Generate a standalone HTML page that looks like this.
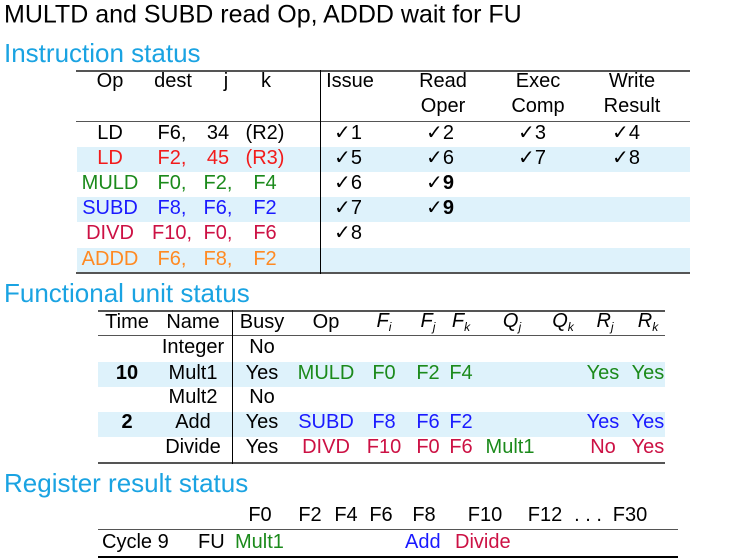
<!DOCTYPE html>
<html><head><meta charset="utf-8"><style>
body{margin:0;width:734px;height:558px;background:#fff;position:relative;overflow:hidden;font-family:"Liberation Sans",sans-serif;font-size:20px;color:#000}
.t{position:absolute;transform:translate(-50%,-50%);white-space:nowrap;line-height:1}
.l{position:absolute;transform:translate(0,-50%);white-space:nowrap;line-height:1}
.h{position:absolute;color:#1aa3e2;font-size:26px;line-height:1;transform:translate(0,-50%)}
.hr{position:absolute;height:1px;background:#555}
.vr{position:absolute;width:1.3px;background:#000}
.sh{position:absolute;background:#def2fb}
.r{color:#f21b1b}.g{color:#1b8a1b}.b{color:#1a1aff}.c{color:#cc1144}.o{color:#ff8a22}
i{font-style:italic}
sub{font-size:12px;vertical-align:-4px}
</style></head><body>
<div class="l" style="left:4px;top:15px;font-size:25px">MULTD and SUBD read Op, ADDD wait for FU</div>
<div class="h" style="left:4px;top:53px">Instruction status</div>
<div class="h" style="left:4px;top:293px">Functional unit status</div>
<div class="h" style="left:4px;top:483px">Register result status</div>

<div>
<div class="sh" style="left:77px;top:147px;width:613px;height:25px"></div>
<div class="sh" style="left:77px;top:197px;width:613px;height:25px"></div>
<div class="sh" style="left:77px;top:248px;width:613px;height:25px"></div>
<div class="hr" style="left:76px;top:70px;width:614px;height:2px"></div>
<div class="hr" style="left:76px;top:121px;width:614px"></div>
<div class="hr" style="left:76px;top:272px;width:614px;height:2px"></div>
<div class="vr" style="left:320px;top:70px;height:204px"></div>
<span class="t" style="left:110px;top:81px">Op</span>
<span class="t" style="left:173px;top:81px">dest</span>
<span class="t" style="left:226px;top:81px">j</span>
<span class="t" style="left:266px;top:81px">k</span>
<span class="t" style="left:350px;top:81px">Issue</span>
<span class="t" style="left:443px;top:81px">Read</span><span class="t" style="left:443px;top:106px">Oper</span>
<span class="t" style="left:538px;top:81px">Exec</span><span class="t" style="left:538px;top:106px">Comp</span>
<span class="t" style="left:632px;top:81px">Write</span><span class="t" style="left:632px;top:106px">Result</span>

<span class="t" style="left:110px;top:133px">LD</span><span class="t" style="left:172px;top:133px">F6,</span><span class="t" style="left:218px;top:133px">34</span><span class="t" style="left:265px;top:133px">(R2)</span>
<span class="t r" style="left:110px;top:158px">LD</span><span class="t r" style="left:172px;top:158px">F2,</span><span class="t r" style="left:218px;top:158px">45</span><span class="t r" style="left:265px;top:158px">(R3)</span>
<span class="t g" style="left:110px;top:183px">MULD</span><span class="t g" style="left:172px;top:183px">F0,</span><span class="t g" style="left:218px;top:183px">F2,</span><span class="t g" style="left:265px;top:183px">F4</span>
<span class="t b" style="left:110px;top:208px">SUBD</span><span class="t b" style="left:172px;top:208px">F8,</span><span class="t b" style="left:218px;top:208px">F6,</span><span class="t b" style="left:265px;top:208px">F2</span>
<span class="t c" style="left:110px;top:233px">DIVD</span><span class="t c" style="left:172px;top:233px">F10,</span><span class="t c" style="left:218px;top:233px">F0,</span><span class="t c" style="left:265px;top:233px">F6</span>
<span class="t o" style="left:110px;top:259px">ADDD</span><span class="t o" style="left:172px;top:259px">F6,</span><span class="t o" style="left:218px;top:259px">F8,</span><span class="t o" style="left:265px;top:259px">F2</span>

<span class="t" style="left:348px;top:133px">✓1</span><span class="t" style="left:440px;top:133px">✓2</span><span class="t" style="left:532px;top:133px">✓3</span><span class="t" style="left:626px;top:133px">✓4</span>
<span class="t" style="left:348px;top:158px">✓5</span><span class="t" style="left:440px;top:158px">✓6</span><span class="t" style="left:532px;top:158px">✓7</span><span class="t" style="left:626px;top:158px">✓8</span>
<span class="t" style="left:348px;top:183px">✓6</span><span class="t" style="left:440px;top:183px">✓<b>9</b></span>
<span class="t" style="left:348px;top:208px">✓7</span><span class="t" style="left:440px;top:208px">✓<b>9</b></span>
<span class="t" style="left:348px;top:233px">✓8</span>
</div>

<div>
<div class="sh" style="left:98px;top:362px;width:567px;height:25px"></div>
<div class="sh" style="left:98px;top:412px;width:567px;height:25px"></div>
<div class="hr" style="left:98px;top:310px;width:567px;height:2px"></div>
<div class="hr" style="left:98px;top:335px;width:567px"></div>
<div class="hr" style="left:98px;top:462px;width:567px;height:2px"></div>
<div class="vr" style="left:232px;top:310px;height:154px"></div>
<span class="t" style="left:127px;top:322px">Time</span>
<span class="t" style="left:193px;top:322px">Name</span>
<span class="t" style="left:262px;top:322px">Busy</span>
<span class="t" style="left:326px;top:322px">Op</span>
<span class="t" style="left:384px;top:322px"><i>F<sub>i</sub></i></span>
<span class="t" style="left:428px;top:322px"><i>F<sub>j</sub></i></span>
<span class="t" style="left:461px;top:322px"><i>F<sub>k</sub></i></span>
<span class="t" style="left:512px;top:322px"><i>Q<sub>j</sub></i></span>
<span class="t" style="left:563px;top:322px"><i>Q<sub>k</sub></i></span>
<span class="t" style="left:605px;top:322px"><i>R<sub>j</sub></i></span>
<span class="t" style="left:648px;top:322px"><i>R<sub>k</sub></i></span>

<span class="t" style="left:193px;top:347px">Integer</span><span class="t" style="left:262px;top:347px">No</span>
<span class="t" style="left:127px;top:373px"><b>10</b></span><span class="t" style="left:193px;top:373px">Mult1</span><span class="t" style="left:262px;top:373px">Yes</span>
<span class="t g" style="left:326px;top:373px">MULD</span><span class="t g" style="left:384px;top:373px">F0</span><span class="t g" style="left:428px;top:373px">F2</span><span class="t g" style="left:461px;top:373px">F4</span><span class="t g" style="left:603px;top:373px">Yes</span><span class="t g" style="left:648px;top:373px">Yes</span>
<span class="t" style="left:193px;top:397px">Mult2</span><span class="t" style="left:262px;top:397px">No</span>
<span class="t" style="left:127px;top:422px"><b>2</b></span><span class="t" style="left:193px;top:422px">Add</span><span class="t" style="left:262px;top:422px">Yes</span>
<span class="t b" style="left:326px;top:422px">SUBD</span><span class="t b" style="left:384px;top:422px">F8</span><span class="t b" style="left:428px;top:422px">F6</span><span class="t b" style="left:461px;top:422px">F2</span><span class="t b" style="left:603px;top:422px">Yes</span><span class="t b" style="left:648px;top:422px">Yes</span>
<span class="t" style="left:193px;top:447px">Divide</span><span class="t" style="left:262px;top:447px">Yes</span>
<span class="t c" style="left:326px;top:447px">DIVD</span><span class="t c" style="left:384px;top:447px">F10</span><span class="t c" style="left:428px;top:447px">F0</span><span class="t c" style="left:461px;top:447px">F6</span><span class="t g" style="left:510px;top:447px">Mult1</span><span class="t c" style="left:603px;top:447px">No</span><span class="t c" style="left:648px;top:447px">Yes</span>
</div>

<div>
<div class="hr" style="left:98px;top:529px;width:580px"></div>
<div class="hr" style="left:98px;top:556px;width:580px;height:2px;background:#000"></div>
<span class="t" style="left:260px;top:515px">F0</span>
<span class="t" style="left:310px;top:515px">F2</span>
<span class="t" style="left:346px;top:515px">F4</span>
<span class="t" style="left:381px;top:515px">F6</span>
<span class="t" style="left:424px;top:515px">F8</span>
<span class="t" style="left:485px;top:515px">F10</span>
<span class="t" style="left:545px;top:515px">F12</span>
<span class="t" style="left:588px;top:515px">. . .</span>
<span class="t" style="left:630px;top:515px">F30</span>
<span class="l" style="left:102px;top:542px">Cycle 9</span>
<span class="l" style="left:198px;top:542px">FU</span>
<span class="l g" style="left:235px;top:542px">Mult1</span>
<span class="l b" style="left:405px;top:542px">Add</span>
<span class="l c" style="left:455px;top:542px">Divide</span>
</div>
</body></html>
